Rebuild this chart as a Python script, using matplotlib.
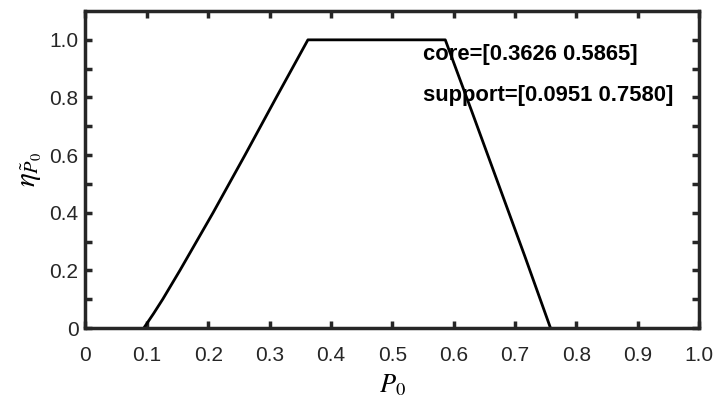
import matplotlib
matplotlib.use("Agg")
import matplotlib.pyplot as plt

plt.rcParams['font.family'] = ['Liberation Sans', 'DejaVu Sans']
plt.rcParams['mathtext.fontset'] = 'stix'

# membership curve
p0 = [0.0951, 0.111, 0.126, 0.154, 0.181, 0.208, 0.260, 0.311, 0.3626,
      0.5865, 0.630, 0.673, 0.716, 0.758]
eta = [0.0, 0.05, 0.10, 0.20, 0.30, 0.40, 0.60, 0.80, 1.0,
       1.0, 0.75, 0.50, 0.25, 0.0]

xticks = [0, 0.1, 0.2, 0.3, 0.4, 0.5, 0.6, 0.7, 0.8, 0.9, 1.0]
xticklabels = ['0', '0.1', '0.2', '0.3', '0.4', '0.5', '0.6', '0.7', '0.8', '0.9', '1.0']
yticks = [0, 0.2, 0.4, 0.6, 0.8, 1.0]
yticklabels = ['0', '0.2', '0.4', '0.6', '0.8', '1.0']
yminor = [0.1, 0.3, 0.5, 0.7, 0.9]

core_text = 'core=[0.3626 0.5865]'
support_text = 'support=[0.0951 0.7580]'

fig = plt.figure(figsize=(7.18, 4.01), dpi=100)
ax = fig.add_axes([0.119, 0.182, 0.8545, 0.7905])

ax.plot(p0, eta, color='black', linewidth=2)

ax.set_xlim(0, 1)
ax.set_ylim(0, 1.1)
ax.set_xticks(xticks)
ax.set_xticklabels(xticklabels)
ax.set_yticks(yticks)
ax.set_yticklabels(yticklabels)
ax.set_yticks(yminor, minor=True)
ax.tick_params(which='both', direction='in', top=True, right=True, length=5, width=2.5,
               color='#262626')
ax.tick_params(axis='both', labelsize=15, labelcolor='#262626')
ax.tick_params(axis='x', pad=13)
ax.tick_params(axis='y', pad=5)
for s in ax.spines.values():
    s.set_linewidth(2.5)
    s.set_color('#262626')

ax.set_xlabel(r'$P_0$', fontsize=19, labelpad=5)
ax.set_ylabel(r'$\eta_{\tilde{P}_0}$', fontsize=21, labelpad=4)

ax.text(0.550, 0.950, core_text, fontsize=15.8, fontweight='bold', va='center')
ax.text(0.550, 0.807, support_text, fontsize=15.8, fontweight='bold', va='center')

fig.savefig('out.png', dpi=100)
